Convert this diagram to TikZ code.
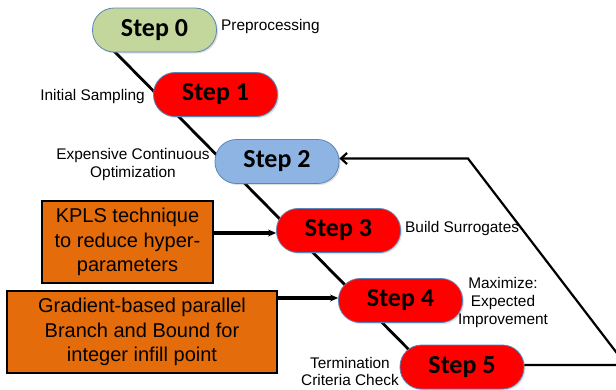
\documentclass[tikz,border=0pt]{standalone}
\usepackage{fontspec}
\setmainfont{Liberation Sans}
\newfontfamily\stepfont{Carlito}
\usetikzlibrary{arrows.meta,backgrounds,shadows}
\definecolor{stepgreen}{HTML}{C3D69B}
\definecolor{stepblue}{HTML}{8EB4E3}
\definecolor{stepred}{HTML}{FF0000}
\definecolor{stepedge}{HTML}{5B84B8}
\definecolor{boxorange}{HTML}{E46C0A}
\begin{document}
\begin{tikzpicture}[x=1pt,y=-1pt,
  stepbox/.style={draw=stepedge, line width=0.8pt, rounded corners=21.5pt,
    minimum width=124pt, minimum height=44pt, inner sep=0pt,
    font=\stepfont\bfseries\fontsize{26}{30}\selectfont,
    drop shadow={shadow xshift=1.5pt, shadow yshift=-1.5pt, opacity=0.25}},
  orangebox/.style={draw=black, line width=1.6pt, fill=boxorange, inner sep=0pt,
    align=center, font=\fontsize{20}{24.5}\selectfont},
  lbl/.style={align=center, inner sep=0pt, font=\fontsize{15.4}{17.6}\selectfont},
  thickline/.style={line width=2.8pt},
  fbline/.style={line width=2.2pt},
  boxarrow/.style={line width=3.2pt, -{Stealth[length=8pt,width=7pt]}}
]
\useasboundingbox (0,0) rectangle (616,389);
\clip (0,0) rectangle (616,389);

% step nodes
\node[stepbox, fill=stepgreen] (s0) at (154.5,30) {Step 0};
\node[stepbox, fill=stepred]   (s1) at (215.5,94.5) {Step 1};
\node[stepbox, fill=stepblue]  (s2) at (277,161.5) {Step 2};
\node[stepbox, fill=stepred]   (s3) at (338.5,230.5) {Step 3};
\node[stepbox, fill=stepred]   (s4) at (400.5,300.5) {Step 4};
\node[stepbox, fill=stepred]   (s5) at (462,367) {Step 5};

% labels
\node[lbl, anchor=west] (l0) at (221,27) {Preprocessing};
\node[lbl, anchor=east] (l1) at (145,97) {Initial Sampling};
\node[lbl] (l2) at (133,164.5) {Expensive Continuous\\Optimization};
\node[lbl, anchor=west] (l3) at (405,228.5) {Build Surrogates};
\node[lbl] (l4) at (503,302.5) {Maximize:\\Expected\\Improvement};
\node[lbl] (l5) at (350,371.5) {Termination\\Criteria Check};

% orange boxes
\node[orangebox, minimum width=171pt, minimum height=82pt] (b1) at (127.5,242) {KPLS technique\\to reduce hyper-\\parameters};
\node[orangebox, minimum width=270pt, minimum height=82pt] (b2) at (142,332) {Gradient-based parallel\\Branch and Bound for\\integer infill point};

% connectors
\coordinate (d0) at (113,50);
\coordinate (d1) at (425,366);
\coordinate (fb1) at (626,365);
\coordinate (fb2) at (468,158.5);
\begin{pgfonlayer}{background}
\draw[thickline] (d0) -- (d1);
\end{pgfonlayer}
\draw[fbline, -{Straight Barb[length=6pt,width=11pt]}] (s5.east |- fb1) -- (fb1) -- (fb2) -- (fb2 -| s2.east);
\draw[boxarrow] (b1.east |- 0,233) -- (s3.west |- 0,233);
\draw[boxarrow] (b2.east |- 0,298) -- (s4.west |- 0,298);
\end{tikzpicture}
\end{document}
